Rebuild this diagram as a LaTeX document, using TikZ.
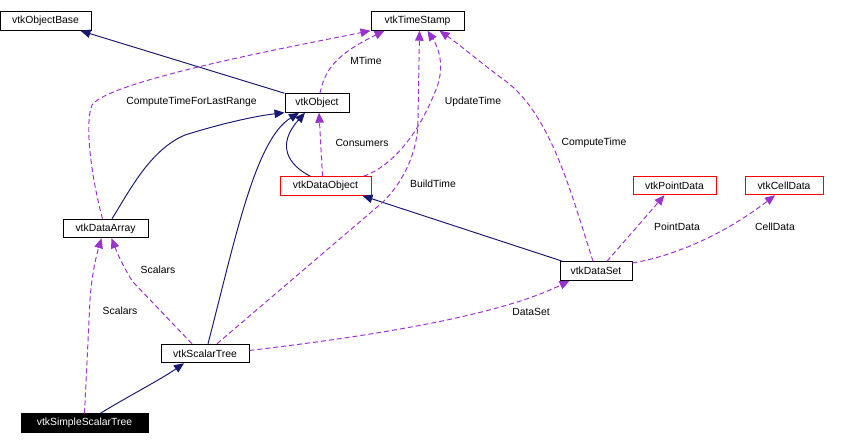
\documentclass[tikz,border=0pt]{standalone}
\usepackage{fontspec}
\setmainfont{Liberation Sans}
\usetikzlibrary{arrows.meta}

\definecolor{edgeblue}{HTML}{191970}
\definecolor{edgepurple}{HTML}{9A32CD}
\newcommand{\dgfont}{\fontsize{5.9}{7}\selectfont}

\begin{document}
\begin{tikzpicture}[x=0.02cm, y=-0.02cm,
    cls/.style={draw, line width=0.55pt, minimum height=0.37cm, inner sep=0pt, font=\dgfont},
    lbl/.style={inner sep=0pt, font=\dgfont},
    inherit/.style={edgeblue, line width=0.55pt, -{Triangle[length=0.2cm, width=0.17cm]}},
    usage/.style={edgepurple, line width=0.55pt, dash pattern=on 0.1cm off 0.06cm, -{Triangle[length=0.2cm, width=0.17cm]}}]
    \useasboundingbox[fill=white] (0,0) rectangle (848,445);

    % classes
    \node[cls, minimum width=1.82cm] (objbase) at (45.5,21) {vtkObjectBase};
    \node[cls, minimum width=1.86cm] (stamp) at (417.5,21) {vtkTimeStamp};
    \node[cls, minimum width=1.28cm] (object) at (317,103) {vtkObject};
    \node[cls, red, text=black, minimum width=1.82cm] (dobj) at (325.5,186) {vtkDataObject};
    \node[cls, minimum width=1.70cm] (darray) at (105.5,228.5) {vtkDataArray};
    \node[cls, minimum width=1.76cm] (stree) at (205,353.5) {vtkScalarTree};
    \node[cls, fill=black, text=white, minimum width=2.54cm] (simple) at (84.5,423) {vtkSimpleScalarTree};
    \node[cls, minimum width=1.44cm] (dset) at (596,271) {vtkDataSet};
    \node[cls, red, text=black, minimum width=1.66cm] (pdata) at (674.5,185.5) {vtkPointData};
    \node[cls, red, text=black, minimum width=1.56cm] (cdata) at (784,185.5) {vtkCellData};

    % inheritance
    \draw[inherit] (object.north west) -- ([xshift=-0.22cm]objbase.south east);
    \draw[inherit] ([xshift=0.13cm]darray.north) .. controls (130,190) and (150,150) .. (185,135)
        .. controls (220,124) and (255,116) .. (object.south west);
    \draw[inherit] ([xshift=0.06cm]stree.north) .. controls (235,240) and (255,140) .. ([xshift=-0.36cm]object.south);
    \draw[inherit] ([xshift=-0.3cm]dobj.north) .. controls (288,165) and (276,145) .. ([xshift=-0.24cm]object.south);
    \draw[inherit] ([xshift=0.06cm]dset.north west) -- ([xshift=-0.18cm]dobj.south east);
    \draw[inherit] ([xshift=0.32cm]simple.north) .. controls (125,398) and (160,380) .. ([xshift=-0.42cm]stree.south);

    % members
    \draw[usage] ([xshift=-0.06cm]darray.north) .. controls (92,180) and (84,125) .. (92,105)
        .. controls (110,80) and (300,45) .. (stamp.south west);
    \draw[usage] ([xshift=0.06cm]object.north) .. controls (325,70) and (335,55) .. ([xshift=0.28cm]stamp.south west);
    \draw[usage] ([xshift=-0.06cm]dobj.north) -- ([xshift=0.04cm]object.south);
    \draw[usage] ([xshift=-0.16cm]dobj.north east) .. controls (395,165) and (420,130) .. (435,92)
        .. controls (445,70) and (440,50) .. ([xshift=0.2cm]stamp.south);
    \draw[usage] ([xshift=0.24cm]stree.north) -- (383,202) .. controls (405,180) and (418,150) .. (418,120)
        -- ([xshift=0.04cm]stamp.south);
    \draw[usage] ([xshift=-0.06cm]dset.north) .. controls (570,190) and (550,110) .. (500,77)
        .. controls (480,62) and (460,45) .. ([xshift=0.44cm]stamp.south);
    \draw[usage] ([xshift=0.22cm]dset.north) -- ([xshift=-0.2cm]pdata.south);
    \draw[usage] ([yshift=0.16cm]dset.east) .. controls (680,255) and (730,230) .. ([xshift=-0.18cm]cdata.south);
    \draw[usage] ([yshift=0.06cm]stree.east) .. controls (380,335) and (500,315) .. ([xshift=0.2cm]dset.south west);
    \draw[usage] ([xshift=-0.26cm]stree.north) -- (133,282) .. controls (125,270) and (118,255) .. ([xshift=0.12cm]darray.south);
    \draw[usage] (simple.north) -- (90,300) .. controls (92,270) and (98,250) .. ([xshift=-0.08cm]darray.south);

    % labels
    \node[lbl] (lblrange) at (191.5,102) {ComputeTimeForLastRange};
    \node[lbl] (lblmtime) at (366,61) {MTime};
    \node[lbl] (lblcons) at (362,143) {Consumers};
    \node[lbl] (lblupd) at (473,102) {UpdateTime};
    \node[lbl] (lblbuild) at (433,184) {BuildTime};
    \node[lbl] (lblcomp) at (594,143) {ComputeTime};
    \node[lbl] (lblpoint) at (677,227) {PointData};
    \node[lbl] (lblcell) at (775,227) {CellData};
    \node[lbl] (lbldset) at (531,311.5) {DataSet};
    \node[lbl] (lblsc) at (158,270) {Scalars};
    \node[lbl] (lblsc2) at (120,311) {Scalars};
\end{tikzpicture}
\end{document}
